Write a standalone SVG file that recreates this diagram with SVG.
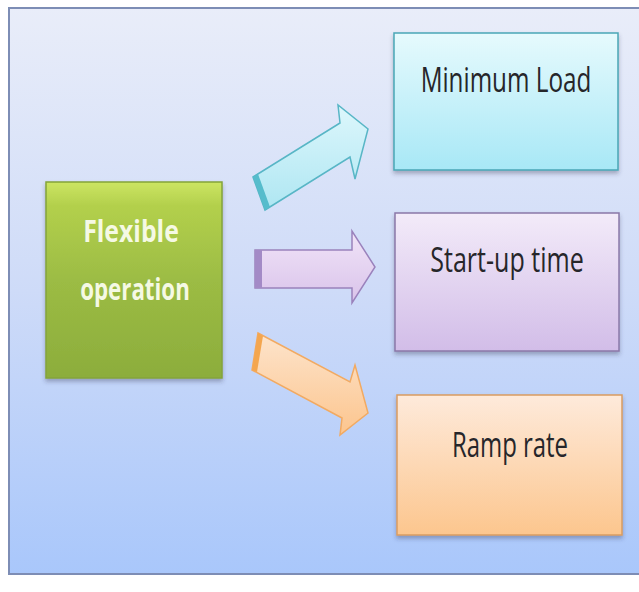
<svg xmlns="http://www.w3.org/2000/svg" width="639" height="592" viewBox="0 0 639 592">
  <defs>
    <linearGradient id="bg" x1="0" y1="0" x2="0" y2="1">
      <stop offset="0" stop-color="#e9edf9"/>
      <stop offset="0.5" stop-color="#cedbf8"/>
      <stop offset="1" stop-color="#a9c7fb"/>
    </linearGradient>
    <linearGradient id="gGreen" x1="0" y1="0" x2="0" y2="1">
      <stop offset="0" stop-color="#cce563"/>
      <stop offset="0.12" stop-color="#b3d04c"/>
      <stop offset="0.5" stop-color="#9cbc44"/>
      <stop offset="1" stop-color="#8cad3c"/>
    </linearGradient>
    <linearGradient id="gCyan" x1="0" y1="0" x2="0" y2="1">
      <stop offset="0" stop-color="#e6fafd"/>
      <stop offset="1" stop-color="#a8e8f6"/>
    </linearGradient>
    <linearGradient id="gPurple" x1="0" y1="0" x2="0" y2="1">
      <stop offset="0" stop-color="#f3ebf9"/>
      <stop offset="1" stop-color="#d2bde8"/>
    </linearGradient>
    <linearGradient id="gOrange" x1="0" y1="0" x2="0" y2="1">
      <stop offset="0" stop-color="#feeadb"/>
      <stop offset="1" stop-color="#fcc68e"/>
    </linearGradient>
    <linearGradient id="aCyan" x1="0" y1="0" x2="0" y2="1">
      <stop offset="0" stop-color="#ddf7fc"/>
      <stop offset="1" stop-color="#aee6f2"/>
    </linearGradient>
    <linearGradient id="aPurple" x1="0" y1="0" x2="0" y2="1">
      <stop offset="0" stop-color="#f1e4f8"/>
      <stop offset="1" stop-color="#d9c3ea"/>
    </linearGradient>
    <linearGradient id="aOrange" x1="0" y1="0" x2="0" y2="1">
      <stop offset="0" stop-color="#fde4cc"/>
      <stop offset="1" stop-color="#fcc58e"/>
    </linearGradient>
    <filter id="shadow" x="-10%" y="-10%" width="120%" height="125%">
      <feDropShadow dx="0" dy="3" stdDeviation="2.2" flood-color="#303850" flood-opacity="0.35"/>
    </filter>
    <filter id="soft" x="-10%" y="-10%" width="120%" height="120%">
      <feGaussianBlur stdDeviation="0.6"/>
    </filter>
  </defs>
  <style>
    .lbl { font-family: "Open Sans", "Noto Sans", "Liberation Sans", sans-serif; font-size: 34px; fill: #26262a; text-anchor: middle; }
    .main { font-family: "Open Sans", "Noto Sans", "Liberation Sans", sans-serif; font-size: 31px; font-weight: bold; fill: #f5f9e4; text-anchor: middle; }
    .box { filter: url(#shadow); stroke-width: 1.5; }
    .arrow { stroke-width: 1.5; stroke-linejoin: miter; }
  </style>

  <!-- panel -->
  <rect x="0" y="0" width="639" height="592" fill="#ffffff"/>
  <rect x="9" y="8" width="640" height="566" fill="url(#bg)" stroke="#7d8db5" stroke-width="2"/>

  <!-- connectors -->
  <g id="connectors" filter="url(#soft)">
    <g id="arrow-min-load">
      <polygon class="arrow" fill="url(#aCyan)" stroke="#58b6c6"
        points="253,177 340,123 338,105 368,129 355,179 350,157 265,210"/>
      <polygon fill="#56bccc" points="253,177 258,174 270,207 265,210"/>
    </g>
    <g id="arrow-start-up">
      <polygon class="arrow" fill="url(#aPurple)" stroke="#9a82bc"
        points="255,250 352,250 352,231 375,267 352,303 352,288 255,288"/>
      <rect x="255" y="250" width="7" height="38" fill="#a38ac6"/>
    </g>
    <g id="arrow-ramp">
      <polygon class="arrow" fill="url(#aOrange)" stroke="#f2aa62"
        points="258,333 350,382 355,365 368,413 340,435 342,418 252,370"/>
      <polygon fill="#f4a650" points="258,333 263,336 257,372 252,370"/>
    </g>
  </g>

  <!-- source node -->
  <g id="flexible-operation">
    <rect class="box" x="46" y="182" width="176" height="196" fill="url(#gGreen)" stroke="#84a43a"/>
    <text class="main" transform="translate(131,242) scale(0.8,1)">Flexible</text>
    <text class="main" transform="translate(135,300) scale(0.72,1)">operation</text>
  </g>

  <!-- target nodes -->
  <g id="minimum-load">
    <rect class="box" x="394" y="33" width="224" height="137" fill="url(#gCyan)" stroke="#4aa6b6"/>
    <text class="lbl" transform="translate(506,92) scale(0.714,1)">Minimum Load</text>
  </g>
  <g id="start-up-time">
    <rect class="box" x="395" y="213" width="224" height="138" fill="url(#gPurple)" stroke="#8a78a8"/>
    <text class="lbl" transform="translate(507,272) scale(0.737,1)">Start-up time</text>
  </g>
  <g id="ramp-rate">
    <rect class="box" x="397" y="395" width="225" height="140" fill="url(#gOrange)" stroke="#d99c62"/>
    <text class="lbl" transform="translate(510,457) scale(0.704,1)">Ramp rate</text>
  </g>
</svg>
